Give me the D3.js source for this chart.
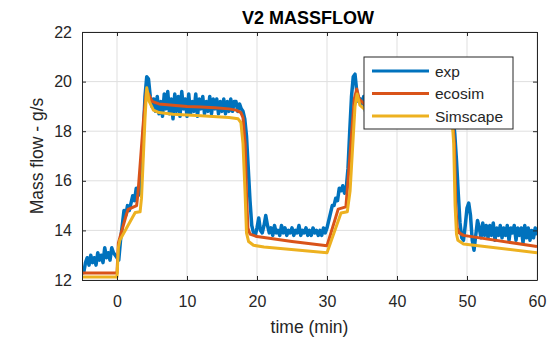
<!DOCTYPE html>
<html>
<head>
<meta charset="utf-8">
<script src="https://cdn.jsdelivr.net/npm/d3@7"></script>
<style>
  body { margin: 0; background: #fff; }
  svg { display: block; font-family: "Liberation Sans", Arial, Helvetica, sans-serif; }
</style>
</head>
<body>
<svg width="548" height="341"></svg>
<script>
// tick labels
const xTicks = [0, 10, 20, 30, 40, 50, 60];
const yTicks = [12, 14, 16, 18, 20, 22];
const seriesNames = ["exp", "ecosim", "Simscape"];
const seriesColors = ["#0072BD", "#D95319", "#EDB120"];

// exp: measured samples, every 0.25 min from t = -5
const expStart = -5;
const expStep = 0.25;
const expValues = [
  12.4, 12.3, 12.7, 12.9, 12.6, 13.0, 12.7, 12.9,   // -5
  12.6, 13.1, 12.8, 13.0, 12.7, 13.3, 12.9, 13.1,   // -3
  12.8, 13.3, 13.1, 13.0, 12.9, 12.8, 13.6, 14.2,   // -1
  14.8, 14.6, 15.0, 14.8, 15.1, 15.4, 15.2, 15.7,   // 1
  15.4, 15.5, 16.2, 17.8, 19.4, 20.2, 20.1, 19.4,   // 3
  19.0, 19.3, 18.8, 19.4, 18.7, 19.2, 18.6, 19.5,   // 5
  18.9, 19.6, 18.7, 19.3, 18.5, 19.5, 18.8, 19.4,   // 7
  18.6, 19.6, 18.9, 19.3, 18.6, 19.5, 18.7, 19.2,   // 9
  18.8, 19.5, 18.6, 19.3, 18.9, 19.4, 18.7, 19.2,   // 11
  18.8, 19.4, 18.7, 19.3, 18.9, 19.3, 18.7, 19.2,   // 13
  18.8, 19.3, 18.7, 19.2, 18.8, 19.3, 18.8, 19.2,   // 15
  19.2, 18.8, 19.1, 18.9, 18.8, 18.5, 17.8, 16.5,   // 17
  15.2, 14.2, 13.9, 13.8, 14.1, 14.5, 14.0, 13.9,   // 19
  14.2, 14.6, 14.2, 13.9, 14.1, 13.8, 14.2, 13.9,   // 21
  14.0, 13.8, 14.2, 13.9, 14.1, 13.8, 14.0, 13.9,   // 23
  14.1, 13.8, 14.0, 13.9, 14.2, 13.8, 14.0, 13.9,   // 25
  14.1, 13.8, 14.0, 13.8, 14.1, 13.9, 14.0, 13.8,   // 27
  14.0, 13.8, 14.1, 13.9, 14.1, 14.4, 14.7, 15.0,   // 29
  15.0, 15.3, 15.2, 15.7, 15.6, 15.8, 15.5, 15.7,   // 31
  16.5, 18.0, 19.4, 20.2, 20.3, 19.6, 19.2, 19.3,   // 33
  19.1, 19.4, 18.8, 19.3, 18.7, 19.5, 18.9, 19.3,   // 35
  18.8, 19.4, 18.7, 19.3, 18.9, 19.5, 18.8, 19.2,   // 37
  18.7, 19.3, 18.9, 19.4, 18.8, 19.2, 18.7, 19.3,   // 39
  18.9, 19.3, 18.7, 19.2, 18.8, 19.4, 18.8, 19.2,   // 41
  18.7, 19.3, 18.9, 19.2, 18.8, 19.3, 18.7, 19.2,   // 43
  18.8, 19.2, 18.7, 19.3, 18.9, 19.2, 18.8, 19.1,   // 45
  18.8, 19.1, 18.9, 18.7, 18.6, 17.9, 16.8, 15.5,   // 47
  14.3, 13.7, 13.6, 14.2, 14.9, 15.1, 14.6, 13.6,   // 49
  13.2, 13.8, 14.4, 14.1, 13.7, 14.3, 13.8, 14.2,   // 51
  13.7, 14.2, 13.8, 14.3, 13.6, 14.1, 13.8, 14.2,   // 53
  13.7, 14.1, 13.8, 14.2, 13.6, 14.1, 13.9, 14.2,   // 55
  13.6, 14.1, 13.8, 14.1, 13.5, 14.2, 13.7, 14.1,   // 57
  13.6, 14.0, 13.7, 14.1, 13.8                      // 59
];

// ecosim model: [time, value]
const ecosim = [
  [-5, 12.28], [0, 12.28], [0.2, 13.5], [1.3, 14.6], [1.6, 14.85], [2.8, 15.0],
  [3.0, 15.5], [3.8, 18.5], [4.2, 19.65], [4.5, 19.5], [5, 19.2], [6, 19.1],
  [8, 19.05], [10, 19.0], [12, 18.98], [14, 18.95], [16, 18.9], [17, 18.85],
  [17.7, 18.75], [18.0, 18.55], [18.3, 17.5], [18.5, 15.5], [18.7, 14.1],
  [19.0, 13.85], [20, 13.75], [25, 13.55], [30, 13.38], [31.6, 14.86],
  [32.7, 14.95], [33.0, 16.0], [33.9, 19.3], [34.25, 19.7], [34.6, 19.3],
  [35.3, 19.1], [40, 19.0], [45, 18.95], [47.5, 18.85], [47.9, 18.6],
  [48.2, 17.5], [48.4, 15.0], [48.6, 14.1], [48.9, 13.9], [49.5, 13.8], [60, 13.35]
];

// Simscape model: [time, value]
const simscape = [
  [-5, 12.12], [0, 12.12], [0.2, 13.3], [0.4, 13.6], [2.6, 14.72], [3.3, 14.75],
  [3.5, 15.3], [4.0, 18.5], [4.25, 19.75], [4.6, 19.2], [5.2, 18.85], [6, 18.75],
  [8, 18.68], [12, 18.62], [16, 18.55], [17.3, 18.5], [17.7, 18.35], [18.0, 17.5],
  [18.3, 15.5], [18.5, 13.9], [18.8, 13.55], [19.5, 13.4], [21, 13.33], [30, 13.1],
  [32.0, 14.7], [32.9, 14.75], [33.3, 15.6], [34.0, 19.0], [34.3, 19.5], [34.7, 19.05],
  [35.3, 18.9], [40, 18.8], [45, 18.7], [47.5, 18.6], [47.9, 18.35], [48.1, 17.5],
  [48.3, 15.0], [48.5, 13.85], [48.7, 13.6], [49.5, 13.45], [60, 13.1]
];

const expData = expValues.map((v, i) => [expStart + i * expStep, v]);

const svg = d3.select("svg");
const margin = {left: 82, right: 11, top: 32, bottom: 61};
const W = 548, H = 341;
const x = d3.scaleLinear().domain([-5, 60]).range([margin.left, W - margin.right]);
const y = d3.scaleLinear().domain([12, 22]).range([H - margin.bottom, margin.top]);
const axisColor = "#262626";

// grid
const grid = svg.append("g");
grid.selectAll("line.gx").data(xTicks).join("line")
  .attr("x1", d => x(d)).attr("x2", d => x(d))
  .attr("y1", y(12)).attr("y2", y(22))
  .attr("stroke", "#dfdfdf").attr("stroke-width", 1);
grid.selectAll("line.gy").data(yTicks).join("line")
  .attr("x1", x(-5)).attr("x2", x(60))
  .attr("y1", d => y(d)).attr("y2", d => y(d))
  .attr("stroke", "#dfdfdf").attr("stroke-width", 1);

// lines
const line = d3.line().x(d => x(d[0])).y(d => y(d[1]));
svg.append("clipPath").attr("id", "plotclip")
  .append("rect").attr("x", x(-5)).attr("y", y(22))
  .attr("width", x(60) - x(-5)).attr("height", y(12) - y(22));
const plot = svg.append("g").attr("clip-path", "url(#plotclip)");
[expData, ecosim, simscape].forEach((s, i) => {
  plot.append("path").datum(s)
    .attr("d", line)
    .attr("fill", "none")
    .attr("stroke", seriesColors[i])
    .attr("stroke-width", i == 0 ? 3.5 : 3)
    .attr("stroke-linejoin", "round");
});

// axes (box with inward ticks)
const axBottom = svg.append("g").attr("transform", `translate(0,${y(12)})`)
  .call(d3.axisBottom(x).tickValues(xTicks).tickSizeInner(-4).tickSizeOuter(0).tickPadding(16));
const axTop = svg.append("g").attr("transform", `translate(0,${y(22)})`)
  .call(d3.axisTop(x).tickValues(xTicks).tickSizeInner(-4).tickSizeOuter(0).tickFormat(""));
const axLeft = svg.append("g").attr("transform", `translate(${x(-5)},0)`)
  .call(d3.axisLeft(y).tickValues(yTicks).tickSizeInner(-4).tickSizeOuter(0).tickPadding(10));
const axRight = svg.append("g").attr("transform", `translate(${x(60)},0)`)
  .call(d3.axisRight(y).tickValues(yTicks).tickSizeInner(-4).tickSizeOuter(0).tickFormat(""));
[axBottom, axTop, axLeft, axRight].forEach(g => {
  g.select(".domain").attr("stroke", axisColor);
  g.selectAll(".tick line").attr("stroke", axisColor);
  g.selectAll("text").attr("fill", axisColor).style("font-size", "16px")
    .style("font-family", "'Liberation Sans', Arial, sans-serif");
});

// title and labels
svg.append("text").attr("x", 308).attr("y", 24)
  .attr("text-anchor", "middle").style("font-size", "18px").style("font-weight", "bold")
  .attr("fill", "#000").text("V2 MASSFLOW");
svg.append("text").attr("x", (x(-5) + x(60)) / 2).attr("y", 333)
  .attr("text-anchor", "middle").style("font-size", "17.5px")
  .attr("fill", axisColor).text("time (min)");
svg.append("text")
  .attr("transform", `translate(43,${(y(12) + y(22)) / 2}) rotate(-90)`)
  .attr("text-anchor", "middle").style("font-size", "17.5px")
  .attr("fill", axisColor).text("Mass flow - g/s");

// legend
const lg = svg.append("g").attr("transform", "translate(364,57)");
lg.append("rect").attr("width", 149).attr("height", 72)
  .attr("fill", "#fff").attr("stroke", axisColor).attr("stroke-width", 1);
seriesNames.forEach((name, i) => {
  const ly = 14 + i * 22.5;
  lg.append("line").attr("x1", 8).attr("x2", 65).attr("y1", ly).attr("y2", ly)
    .attr("stroke", seriesColors[i]).attr("stroke-width", 3);
  lg.append("text").attr("x", 71).attr("y", ly + 5.5)
    .style("font-size", "15.5px").attr("fill", axisColor).text(name);
});
</script>
</body>
</html>
